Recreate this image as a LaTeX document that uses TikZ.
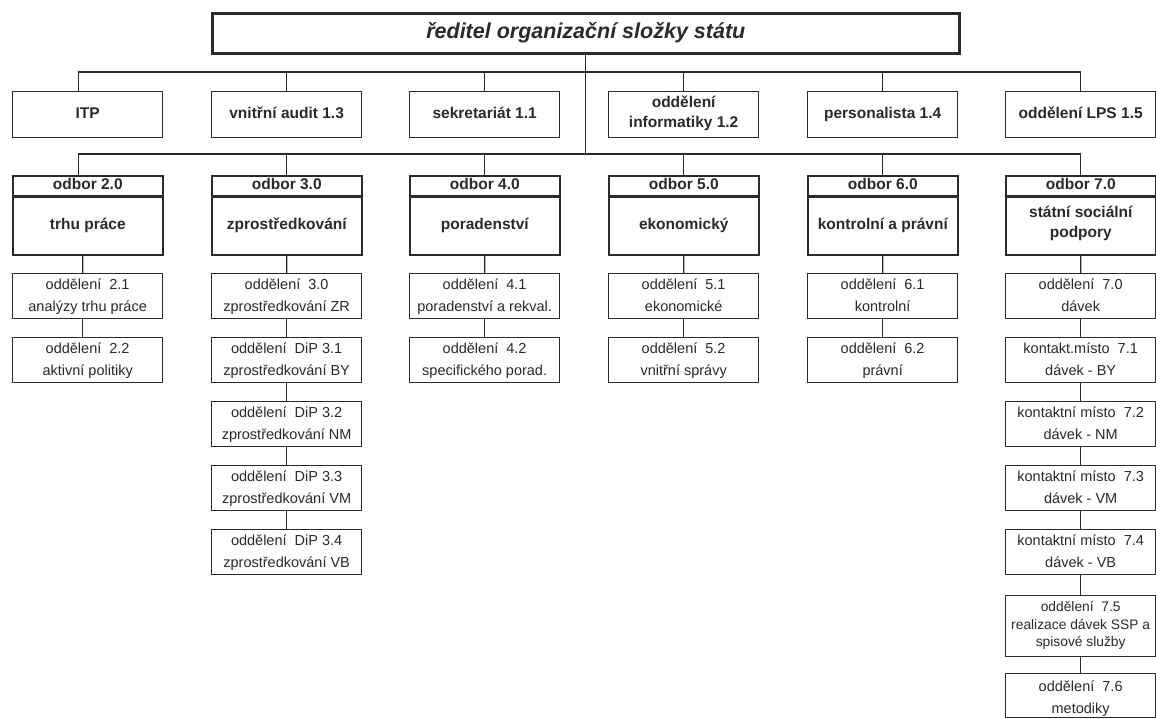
\documentclass[tikz,border=0pt]{standalone}
\usepackage{fontspec}
\setmainfont{Liberation Sans}
\definecolor{ink}{HTML}{2A2A2A}
\newcommand\firstln[1][16pt]{\rule{0pt}{#1}}
\begin{document}
\begin{tikzpicture}[x=1pt,y=-1pt,
  unit/.style={draw=ink, line width=1.3pt, fill=white, inner sep=0pt, align=center,
    anchor=north west, minimum width=150pt, text=ink},
  rowtwo/.style={unit, minimum height=46pt, font=\fontsize{15.5}{20}\selectfont\bfseries,
    execute at end node=\strut},
  headbox/.style={unit, line width=1.6pt, minimum height=20pt, font=\fontsize{15.5}{17}\selectfont\bfseries,
    execute at end node=\strut},
  bodybox/.style={unit, line width=1.6pt, minimum height=59pt, font=\fontsize{15.5}{20}\selectfont\bfseries,
    execute at end node=\strut},
  subbase/.style={unit, minimum height=45pt, font=\fontsize{14.5}{22}\selectfont},
  subbox/.style={subbase, execute at end node={\rule[-7pt]{0pt}{0pt}}},
  topbox/.style={draw=ink, line width=2.6pt, fill=white, inner sep=0pt, anchor=north west,
    minimum width=747pt, minimum height=40pt, text=ink,
    font=\fontsize{21.5}{24}\selectfont\bfseries\itshape,
    execute at end node=\strut},
  conn/.style={draw=ink, line width=1.2pt},
  sep/.style={draw=ink, line width=3.2pt}
]
\useasboundingbox (0,0) rectangle (1156,718);
\fill[white] (0,0) rectangle (1156,718);

% bus levels
\coordinate (busA) at (0,72);
\coordinate (busB) at (0,154);

% top
\node[topbox] (dir) at (211,12) {ředitel organizační složky státu};

% row 2
\node[rowtwo] (itp)   at (12,91)   {ITP};
\node[rowtwo] (audit) at (211,91)  {vnitřní audit 1.3};
\node[rowtwo] (sekr)  at (409,91)  {sekretariát 1.1};
\node[rowtwo] (inf)   at (608,91)  {oddělení\\informatiky 1.2};
\node[rowtwo] (pers)  at (807,91)  {personalista 1.4};
\node[rowtwo] (lps)   at (1005,91) {oddělení LPS 1.5};

% odbory
\node[headbox] (h2) at (12,175)   {odbor 2.0};
\node[headbox] (h3) at (211,175)  {odbor 3.0};
\node[headbox] (h4) at (409,175)  {odbor 4.0};
\node[headbox] (h5) at (608,175)  {odbor 5.0};
\node[headbox] (h6) at (807,175)  {odbor 6.0};
\node[headbox] (h7) at (1005,175) {odbor 7.0};
\node[bodybox] (b2) at (12,195)   {trhu práce};
\node[bodybox] (b3) at (211,195)  {zprostředkování};
\node[bodybox] (b4) at (409,195)  {poradenství};
\node[bodybox] (b5) at (608,195)  {ekonomický};
\node[bodybox] (b6) at (807,195)  {kontrolní a právní};
\node[bodybox] (b7) at (1005,195) {státní sociální\\podpory};
\foreach \n in {2,...,7} { \draw[sep] (h\n.south west) -- (h\n.south east); }

% column 2
\node[subbox] (s21) at (12,273) {\firstln oddělení~ 2.1\\analýzy trhu práce};
\node[subbox] (s22) at (12,337) {\firstln oddělení~ 2.2\\aktivní politiky};
% column 3
\node[subbox] (s30) at (211,273) {\firstln oddělení~ 3.0\\zprostředkování ZR};
\node[subbox] (s31) at (211,337) {\firstln oddělení~ DiP 3.1\\zprostředkování BY};
\node[subbox] (s32) at (211,401) {\firstln oddělení~ DiP 3.2\\zprostředkování NM};
\node[subbox] (s33) at (211,465) {\firstln oddělení~ DiP 3.3\\zprostředkování VM};
\node[subbox] (s34) at (211,529) {\firstln oddělení~ DiP 3.4\\zprostředkování VB};
% column 4
\node[subbox] (s41) at (409,273) {\firstln oddělení~ 4.1\\poradenství a rekval.};
\node[subbox] (s42) at (409,337) {\firstln oddělení~ 4.2\\specifického porad.};
% column 5
\node[subbox] (s51) at (608,273) {\firstln oddělení~ 5.1\\ekonomické};
\node[subbox] (s52) at (608,337) {\firstln oddělení~ 5.2\\vnitřní správy};
% column 6
\node[subbox] (s61) at (807,273) {\firstln oddělení~ 6.1\\kontrolní};
\node[subbox] (s62) at (807,337) {\firstln oddělení~ 6.2\\právní};
% column 7
\node[subbox] (s70) at (1005,273) {\firstln oddělení~ 7.0\\dávek};
\node[subbox] (s71) at (1005,337) {\firstln kontakt.místo~ 7.1\\dávek - BY};
\node[subbox] (s72) at (1005,401) {\firstln kontaktní místo~ 7.2\\dávek - NM};
\node[subbox] (s73) at (1005,465) {\firstln kontaktní místo~ 7.3\\dávek - VM};
\node[subbox] (s74) at (1005,529) {\firstln kontaktní místo~ 7.4\\dávek - VB};
\node[subbase, minimum height=61pt, font=\fontsize{13.8}{17.5}\selectfont,
  execute at end node={\rule[-10pt]{0pt}{0pt}}] (s75) at (1005,595)
  {\firstln oddělení~ 7.5\\realizace dávek SSP a\\spisové služby};
\node[subbase, minimum height=44pt,
  execute at end node={\rule[-4pt]{0pt}{0pt}}] (s76) at (1005,673)
  {\firstln[18pt]oddělení~ 7.6\\metodiky};

% trunk
\draw[conn] (dir.south) -- (dir.south |- busB);
% row 2 bus
\draw[conn] ([xshift=-9pt]itp.north) -- ([xshift=-9pt]itp.north |- busA) -- (lps.north |- busA) -- (lps.north);
\foreach \n in {audit,sekr,inf,pers} { \draw[conn] (\n.north) -- (\n.north |- busA); }
% row 3 bus
\draw[conn] ([xshift=-9pt]h2.north) -- ([xshift=-9pt]h2.north |- busB) -- (h7.north |- busB) -- (h7.north);
\foreach \n in {h3,h4,h5,h6} { \draw[conn] (\n.north) -- (\n.north |- busB); }

% column chains
\draw[conn] ([xshift=-5pt]b2.south) -- ([xshift=-5pt]s21.north);
\draw[conn] ([xshift=-5pt]s21.south) -- ([xshift=-5pt]s22.north);
\draw[conn] (b3.south) -- (s30.north);
\draw[conn] (s30.south) -- (s31.north);
\draw[conn] (s31.south) -- (s32.north);
\draw[conn] (s32.south) -- (s33.north);
\draw[conn] (s33.south) -- (s34.north);
\draw[conn] (b4.south) -- (s41.north);
\draw[conn] (s41.south) -- (s42.north);
\draw[conn] (b5.south) -- (s51.north);
\draw[conn] (s51.south) -- (s52.north);
\draw[conn] (b6.south) -- (s61.north);
\draw[conn] (s61.south) -- (s62.north);
\draw[conn] (b7.south) -- (s70.north);
\draw[conn] (s70.south) -- (s71.north);
\draw[conn] (s71.south) -- (s72.north);
\draw[conn] (s72.south) -- (s73.north);
\draw[conn] (s73.south) -- (s74.north);
\draw[conn] (s74.south) -- (s75.north);
\draw[conn] (s75.south) -- (s76.north);
\end{tikzpicture}
\end{document}
